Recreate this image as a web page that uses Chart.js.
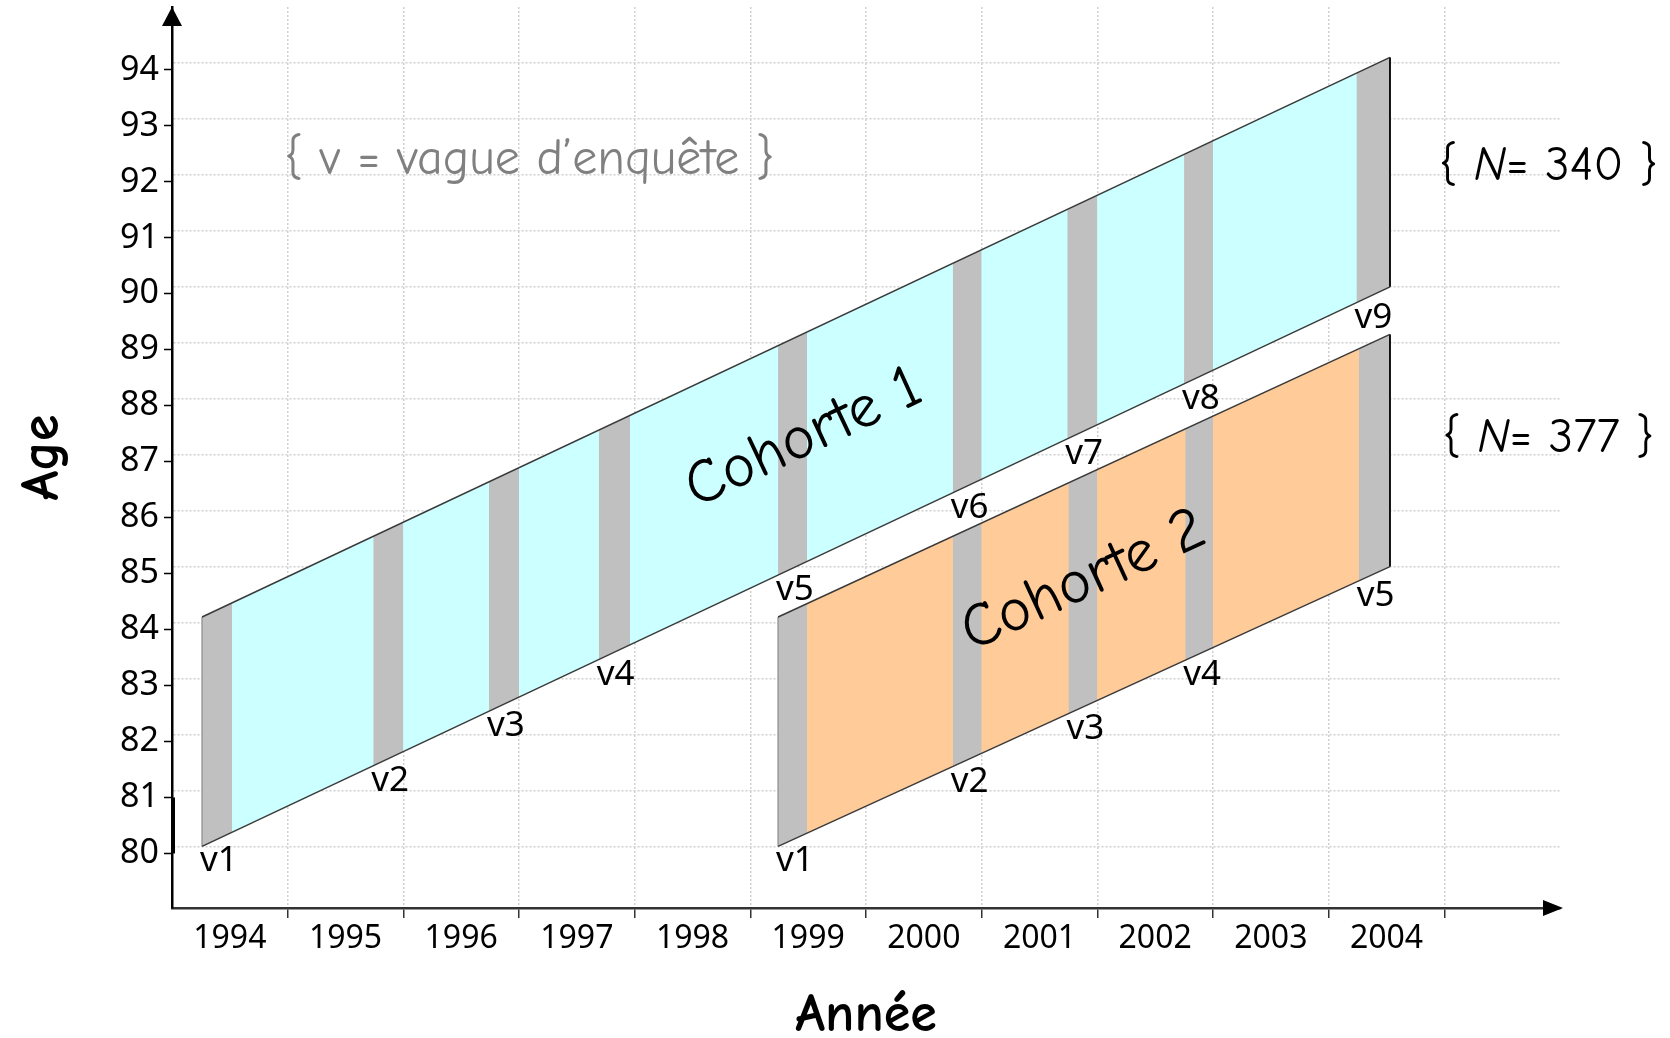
<!DOCTYPE html>
<html>
<head>
<meta charset="utf-8">
<script src="https://cdn.jsdelivr.net/npm/chart.js@4.4.1/dist/chart.umd.min.js"></script>
<style>
  html, body { margin: 0; padding: 0; background: #fff; }
  canvas { display: block; }
</style>
</head>
<body>
<canvas id="lexis" width="1670" height="1038"></canvas>
<script>
// libellés de l'axe des années et de l'axe des âges
var years = ['1994', '1995', '1996', '1997', '1998', '1999', '2000', '2001', '2002', '2003', '2004'];
var ageTicks = [80, 81, 82, 83, 84, 85, 86, 87, 88, 89, 90, 91, 92, 93, 94];

// cohorte 1 : année de début / fin, âge du bord bas et du bord haut
var c1Years = [1994.26, 2004.53];
var c1Bottom = [80, 90];
var c1Top = [84.1, 94.1];
// vagues d'enquête (début / fin, en années)
var c1WaveStart = [1994.26, 1995.74, 1996.74, 1997.69, 1999.24, 2000.75, 2001.74, 2002.75, 2004.24];
var c1WaveEnd = [1994.52, 1996.0, 1997.0, 1997.96, 1999.49, 2001.0, 2002.0, 2003.0, 2004.53];

// cohorte 2
var c2Years = [1999.24, 2004.53];
var c2Bottom = [80, 85];
var c2Top = [84.1, 89.15];
var c2WaveStart = [1999.24, 2000.75, 2001.75, 2002.76, 2004.26];
var c2WaveEnd = [1999.49, 2001.0, 2002.0, 2003.0, 2004.53];

var cohortNames = ['Cohorte 1', 'Cohorte 2'];
var cohortN = [340, 377];

var TICK_FONT = '"Noto Sans", "DejaVu Sans", sans-serif';
var COMIC = '"Comic Sans MS", "Comic Neue", "Noto Sans", sans-serif';

// âge sur un bord de la cohorte pour une année donnée (droite de Lexis)
function ageAt(xs, ys, x) {
  return ys[0] + (ys[1] - ys[0]) * (x - xs[0]) / (xs[1] - xs[0]);
}
function pts(xs, ys) {
  return xs.map(function(x, i) { return {x: x, y: ys[i]}; });
}

var datasets = [];
var NONE = 'rgba(0,0,0,0)';

function addCohort(xs, bottom, top, starts, ends, color) {
  datasets.push({data: pts(xs, top), fill: '+1', backgroundColor: color, borderColor: NONE, order: 3});
  datasets.push({data: pts(xs, bottom), fill: false, borderColor: NONE, order: 3});
  starts.forEach(function(s, i) {
    var wx = [s, ends[i]];
    datasets.push({data: pts(wx, wx.map(function(x) { return ageAt(xs, top, x); })),
      fill: '+1', backgroundColor: '#c0c0c0', borderColor: NONE, order: 2});
    datasets.push({data: pts(wx, wx.map(function(x) { return ageAt(xs, bottom, x); })),
      fill: false, borderColor: NONE, order: 2});
  });
  datasets.push({data: pts(xs, top), fill: false, borderColor: '#3a3a3a', borderWidth: 1.5, order: 1});
  datasets.push({data: pts(xs, bottom), fill: false, borderColor: '#3a3a3a', borderWidth: 1.5, order: 1});
  datasets.push({data: [{x: xs[0], y: bottom[0]}, {x: xs[0], y: top[0]}], fill: false, borderColor: '#999', borderWidth: 1.5, order: 1});
  datasets.push({data: [{x: xs[1], y: bottom[1]}, {x: xs[1], y: top[1]}], fill: false, borderColor: '#111', borderWidth: 2, order: 1});
}
addCohort(c1Years, c1Bottom, c1Top, c1WaveStart, c1WaveEnd, '#ccffff');
addCohort(c2Years, c2Bottom, c2Top, c2WaveStart, c2WaveEnd, '#ffcc99');

var cohorts = [
  {xs: c1Years, bottom: c1Bottom, top: c1Top, starts: c1WaveStart, label: [1999.46, 87.3], nAt: [2005.9, 92.15]},
  {xs: c2Years, bottom: c2Bottom, top: c2Top, starts: c2WaveStart, label: [2001.88, 84.75], nAt: [2005.9, 87.3]}
];

var decor = {
  id: 'decor',
  afterDraw: function(chart) {
    var ctx = chart.ctx, x = chart.scales.x, y = chart.scales.y, yt = chart.scales.yTicks;
    var area = chart.chartArea;
    ctx.save();
    ctx.fillStyle = '#000';
    // flèche de l'axe des âges
    ctx.beginPath();
    ctx.moveTo(area.left, area.top);
    ctx.lineTo(area.left - 10, area.top + 19);
    ctx.lineTo(area.left + 10, area.top + 19);
    ctx.closePath();
    ctx.fill();
    // flèche de l'axe des années
    ctx.beginPath();
    ctx.moveTo(area.right + 3, area.bottom);
    ctx.lineTo(area.right - 17, area.bottom - 8);
    ctx.lineTo(area.right - 17, area.bottom + 8);
    ctx.closePath();
    ctx.fill();
    // petit trait épais entre 80 et 81
    var p81 = yt.getPixelForValue(81), p80 = yt.getPixelForValue(80);
    ctx.fillRect(area.left, p81, 3, p80 - p81);

    // étiquettes des vagues
    ctx.font = '35px ' + TICK_FONT;
    ctx.textAlign = 'left';
    ctx.textBaseline = 'alphabetic';
    cohorts.forEach(function(c) {
      c.starts.forEach(function(s, i) {
        var px = x.getPixelForValue(s);
        var py = y.getPixelForValue(ageAt(c.xs, c.bottom, s));
        ctx.fillText('v' + (i + 1), px - 2, py + 25);
      });
    });

    // noms des cohortes, inclinés comme la cohorte
    cohorts.forEach(function(c, k) {
      var dx = x.getPixelForValue(c.xs[1]) - x.getPixelForValue(c.xs[0]);
      var dy = y.getPixelForValue(c.top[0]) - y.getPixelForValue(c.top[1]);
      var ang = Math.atan2(dy, dx);
      ctx.save();
      ctx.translate(x.getPixelForValue(c.label[0]), y.getPixelForValue(c.label[1]));
      ctx.rotate(-ang);
      ctx.font = '62px ' + COMIC;
      ctx.textAlign = 'center';
      ctx.textBaseline = 'middle';
      ctx.fillStyle = '#000';
      ctx.fillText(cohortNames[k], 0, 0);
      ctx.restore();

      // { N = ... }
      var parts = [['{ ', 'normal'], ['N', 'italic'], ['= ' + cohortN[k] + ' }', 'normal']];
      var w = 0;
      parts.forEach(function(p) { ctx.font = p[1] + ' 49px ' + COMIC; p.push(ctx.measureText(p[0]).width); w += p[2]; });
      var cx = x.getPixelForValue(c.nAt[0]) - w / 2, cy = y.getPixelForValue(c.nAt[1]);
      ctx.textAlign = 'left';
      ctx.textBaseline = 'middle';
      parts.forEach(function(p) { ctx.font = p[1] + ' 49px ' + COMIC; ctx.fillText(p[0], cx, cy); cx += p[2]; });
    });

    // légende des vagues
    ctx.font = '50px ' + COMIC;
    ctx.fillStyle = '#808080';
    ctx.textAlign = 'center';
    ctx.textBaseline = 'middle';
    ctx.fillText('{ v = vague d\u2019enqu\u00eate }', x.getPixelForValue(1997.09), y.getPixelForValue(92.27));
    ctx.restore();
  }
};

new Chart(document.getElementById('lexis'), {
  type: 'line',
  data: {datasets: datasets},
  options: {
    responsive: false,
    animation: false,
    devicePixelRatio: 1,
    events: [],
    layout: {padding: {top: 7, right: 110, left: 0, bottom: 0}},
    elements: {point: {radius: 0, hoverRadius: 0}, line: {tension: 0, borderWidth: 0}},
    plugins: {legend: {display: false}, tooltip: {enabled: false}},
    scales: {
      x: {
        type: 'linear', position: 'bottom', min: 1994, max: 2006, weight: 0,
        afterBuildTicks: function(s) { s.ticks = years.slice(1).map(function(v) { return {value: +v}; }).concat([{value: 2005}]); },
        afterFit: function(s) { s.height = 2; s.paddingLeft = 0; s.paddingRight = 0; },
        ticks: {display: false},
        grid: {color: '#d0d0d0', lineWidth: 1.5, drawTicks: true, tickLength: 10, tickColor: '#333', tickWidth: 1.5, tickBorderDash: []},
        border: {display: true, color: '#333', width: 2.5, dash: [2, 2]}
      },
      xLabels: {
        type: 'linear', position: 'bottom', min: 1994, max: 2006, weight: 1,
        afterBuildTicks: function(s) { s.ticks = years.map(function(v) { return {value: +v + 0.5}; }); },
        afterFit: function(s) { s.height = 128; s.paddingLeft = 0; s.paddingRight = 0; },
        ticks: {
          autoSkip: false, maxRotation: 0, padding: 2, color: '#000',
          font: {family: TICK_FONT, size: 32},
          callback: function(v) { return years[Math.round(v - 1994.5)]; }
        },
        grid: {display: false},
        border: {display: false},
        title: {display: true, text: 'Année', color: '#000', font: {family: COMIC, size: 54, weight: 'bold', lineHeight: 1}, padding: {top: 0, bottom: -5}}
      },
      y: {
        type: 'linear', position: 'left', min: 78.9, max: 95, weight: 0,
        afterBuildTicks: function(s) { s.ticks = ageTicks.map(function(v) { return {value: v}; }); },
        afterFit: function(s) { s.width = 0; s.paddingTop = 0; s.paddingBottom = 0; },
        ticks: {display: false},
        grid: {color: '#d0d0d0', lineWidth: 1.5, drawTicks: false},
        border: {display: true, color: '#000', width: 2.5, dash: [2, 2]}
      },
      yTicks: {
        type: 'linear', position: 'left', min: 79.025, max: 95.125, weight: 1,
        afterBuildTicks: function(s) { s.ticks = ageTicks.map(function(v) { return {value: v}; }); },
        afterFit: function(s) { s.width = 172; s.paddingTop = 0; s.paddingBottom = 0; },
        ticks: {padding: 5, color: '#000', font: {family: TICK_FONT, size: 34}},
        grid: {display: true, drawOnChartArea: false, drawTicks: true, tickLength: 8, tickColor: '#000', tickWidth: 1.5, tickBorderDash: []},
        border: {display: false},
        title: {display: true, text: 'Age', color: '#000', font: {family: COMIC, size: 54, weight: 'bold', lineHeight: 1}, padding: {top: 16, bottom: 0}}
      }
    }
  },
  plugins: [decor]
});
</script>
</body>
</html>
